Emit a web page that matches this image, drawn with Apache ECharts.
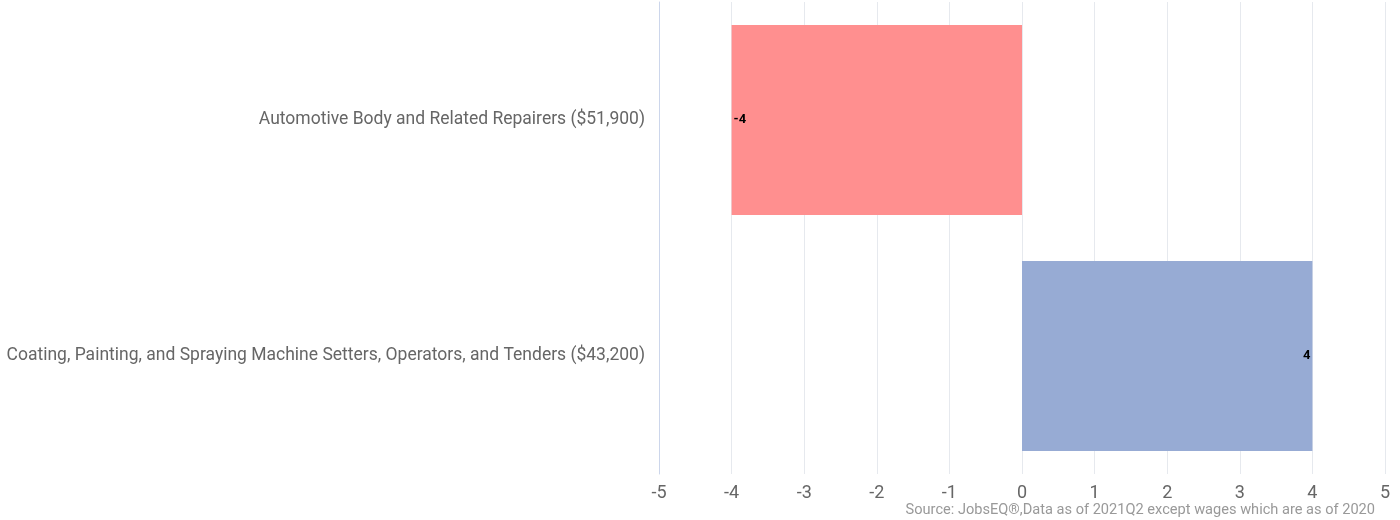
<!DOCTYPE html>
<html><head><meta charset="utf-8">
<script src="https://cdn.jsdelivr.net/npm/echarts@6/dist/echarts.min.js"></script>
<style>html,body{margin:0;padding:0;background:#fff}#c{width:1400px;height:520px}</style>
</head><body><div id="c"></div>
<script>
const categories = ["Automotive Body and Related Repairers ($51,900)", "Coating, Painting, and Spraying Machine Setters, Operators, and Tenders ($43,200)"];
const values = [-4, 4];
const barColors = ["#FF8F8F", "#97ABD4"];
const sourceText = "Source: JobsEQ®,Data as of 2021Q2 except wages which are as of 2020";

const chart = echarts.init(document.getElementById('c'));
chart.setOption({
  animation: false,
  textStyle: {fontFamily: 'Roboto'},
  grid: {left: 659, right: 15, top: 2, bottom: 46, containLabel: false},
  graphic: [{type: 'text', right: 25, bottom: 2, style: {text: sourceText, fill: '#999', font: '14.6px Roboto', textAlign: 'right'}}],
  xAxis: {
    type: 'value', min: -5, max: 5, interval: 1,
    axisLine: {show: false}, axisTick: {show: false},
    splitLine: {show: true, lineStyle: {color: '#e6e9ee', width: 1}},
    axisLabel: {color: '#666', fontSize: 18, margin: 10}
  },
  yAxis: {
    type: 'category', data: categories, inverse: true,
    axisLine: {show: true, onZero: false, lineStyle: {color: '#ccd6eb'}},
    axisTick: {show: false},
    axisLabel: {color: '#666', fontSize: 17.5, margin: 14}
  },
  series: [{
    type: 'bar', barCategoryGap: '19.5%',
    data: values.map((v, i) => ({
      value: v,
      itemStyle: {color: barColors[i]},
      label: {show: true, position: v < 0 ? 'insideLeft' : 'insideRight', distance: 2,
              color: '#000', fontWeight: 'bold', fontSize: 13, formatter: '{c}'}
    }))
  }]
});
</script></body></html>
